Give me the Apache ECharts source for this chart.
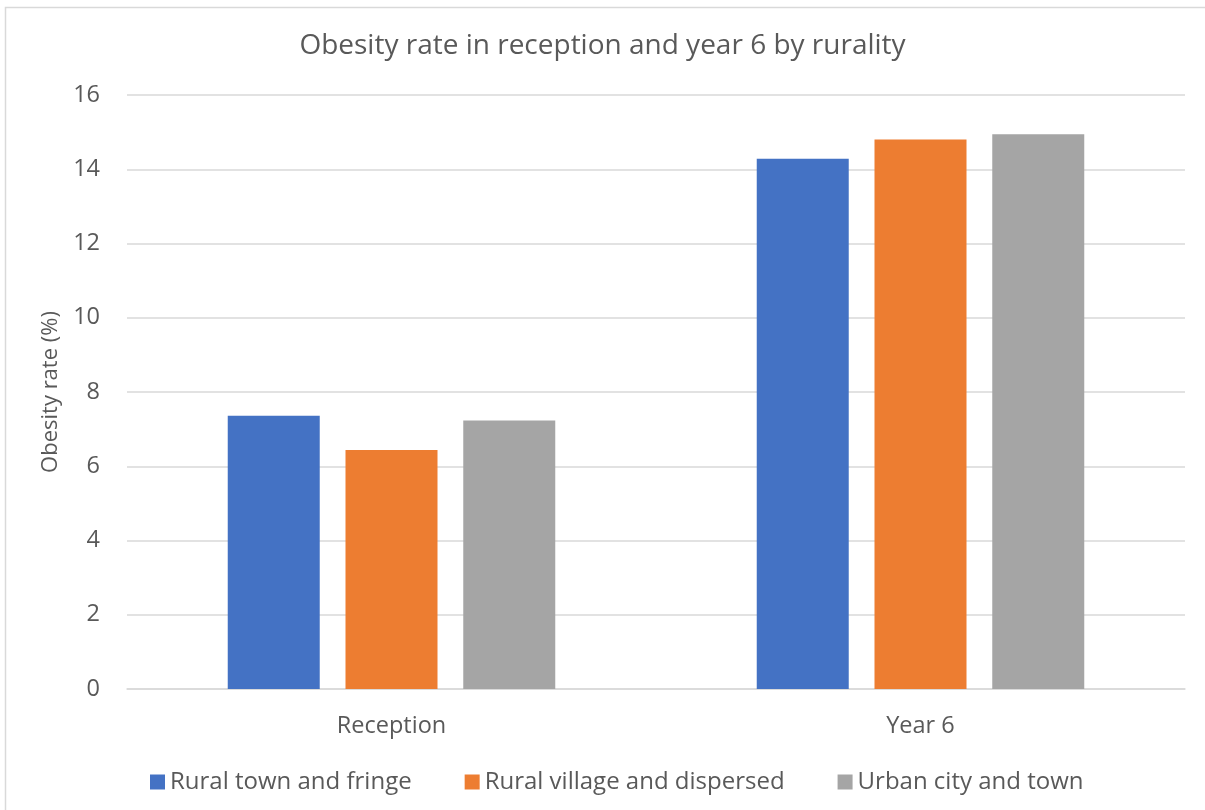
<!DOCTYPE html>
<html>
<head>
<meta charset="utf-8">
<script src="https://cdn.jsdelivr.net/npm/echarts@6/dist/echarts.min.js"></script>
<style>
  html, body { margin: 0; padding: 0; background: #ffffff; }
  #chart { width: 1205px; height: 810px; }
</style>
</head>
<body>
<div id="chart"></div>
<script>
// Obesity rate (%) by school year and rurality classification
const categories = ['Reception', 'Year 6'];
const seriesNames = ['Rural town and fringe', 'Rural village and dispersed', 'Urban city and town'];
const ruralTownFringe = [7.36, 14.28];
const ruralVillageDispersed = [6.44, 14.80];
const urbanCityTown = [7.23, 14.94];
const yTicks = [0, 2, 4, 6, 8, 10, 12, 14, 16];

const colors = ['#4472C4', '#ED7D31', '#A5A5A5'];
const textColor = '#595959';
const fontFamily = '"Open Sans", "Noto Sans", sans-serif';

const chart = echarts.init(document.getElementById('chart'), null, { renderer: 'canvas' });

const values = [ruralTownFringe, ruralVillageDispersed, urbanCityTown];

chart.setOption({
  backgroundColor: '#ffffff',
  animation: false,
  color: colors,
  textStyle: { fontFamily: fontFamily },
  graphic: [{
    type: 'rect',
    shape: { x: 5.5, y: 7.5, width: 1210, height: 820 },
    style: { fill: 'none', stroke: '#d9d9d9', lineWidth: 1.5 },
    silent: true
  }],
  title: {
    text: 'Obesity rate in reception and year 6 by rurality',
    left: 'center',
    top: 27,
    textStyle: { fontSize: 28, fontWeight: 'normal', color: textColor, fontFamily: fontFamily }
  },
  legend: {
    left: 145,
    top: 765,
    itemWidth: 15,
    itemHeight: 15,
    itemGap: 53,
    icon: 'rect',
    data: seriesNames,
    textStyle: { fontSize: 24, color: textColor, fontFamily: fontFamily }
  },
  grid: { left: 127, right: 20, top: 95, bottom: 121, containLabel: false },
  xAxis: {
    type: 'category',
    data: categories,
    axisTick: { show: false },
    axisLine: { show: true, lineStyle: { color: '#d9d9d9', width: 1.5 } },
    axisLabel: { fontSize: 23.5, color: textColor, margin: 25, fontFamily: fontFamily }
  },
  yAxis: {
    type: 'value',
    min: yTicks[0],
    max: yTicks[yTicks.length - 1],
    interval: 2,
    name: 'Obesity rate (%)',
    nameLocation: 'middle',
    nameGap: 63,
    nameTextStyle: { fontSize: 22, color: textColor, fontFamily: fontFamily },
    axisLine: { show: false },
    axisTick: { show: false },
    axisLabel: { fontSize: 23.5, color: textColor, margin: 27, fontFamily: fontFamily },
    splitLine: { lineStyle: { color: '#d9d9d9', width: 1.5 } }
  },
  series: seriesNames.map((name, i) => ({
    name: name,
    type: 'bar',
    data: values[i],
    barWidth: 92,
    barGap: '28%',
    itemStyle: { color: colors[i] }
  }))
});
</script>
</body>
</html>
